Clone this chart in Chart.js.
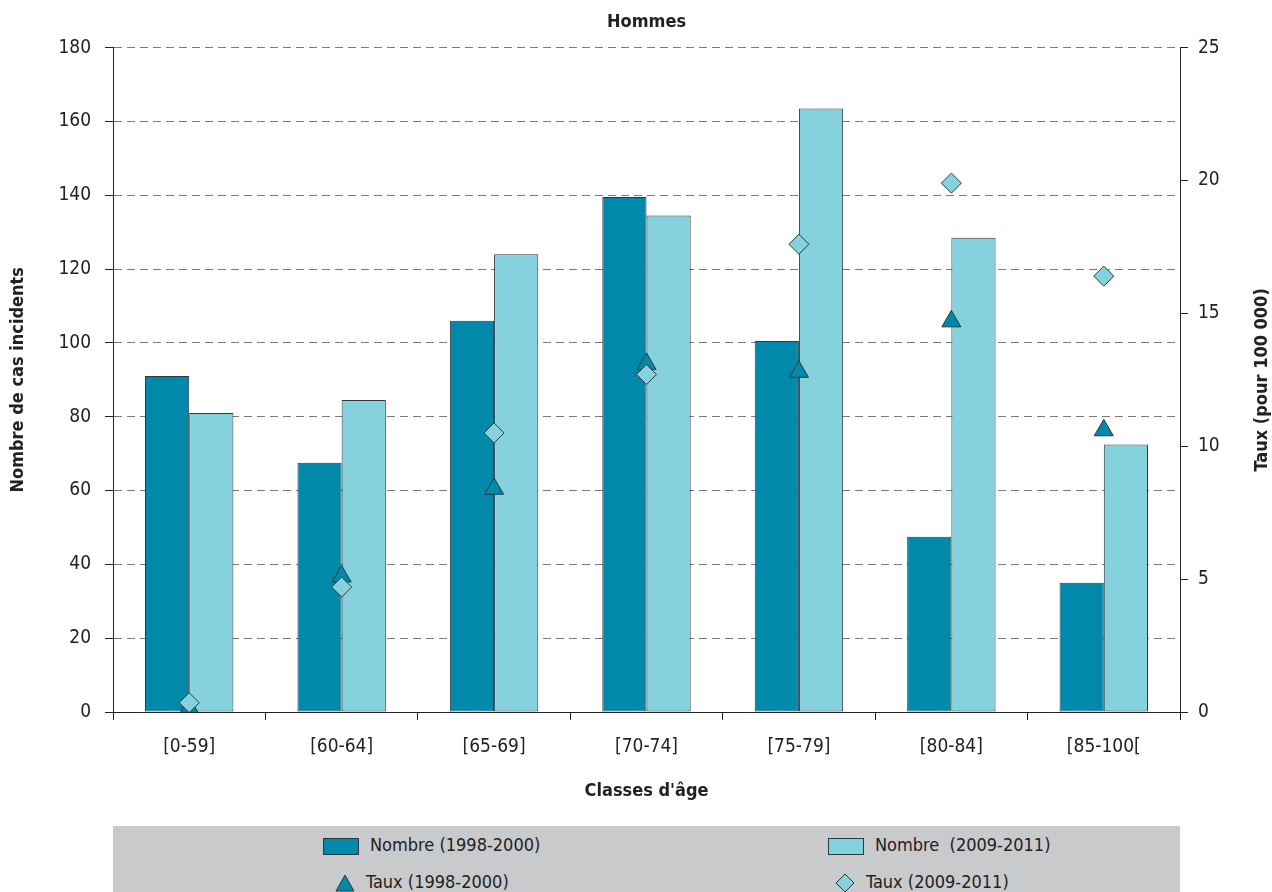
<!DOCTYPE html>
<html lang="fr">
<head>
    <meta charset="UTF-8">
    <title>Hommes</title>
    <script src="https://cdn.jsdelivr.net/npm/chart.js"></script>
    <style>
        body { margin: 0; background: #fff; font-family: "Liberation Sans Narrow", "DejaVu Sans Condensed", sans-serif; }
        #wrap { position: relative; width: 1272px; height: 892px; }
        #legend {
            position: absolute; left: 113px; top: 826px; width: 1067px; height: 66px;
            background: #c9cacc; color: #222; font-size: 18px;
        }
        .item { position: absolute; height: 22px; line-height: 22px; white-space: pre; }
        .sw { display: inline-block; vertical-align: middle; margin-right: 11px; }
    </style>
</head>
<body>
<div id="wrap">
    <canvas id="chart" width="1272" height="826"></canvas>
    <div id="legend"></div>
</div>
<script>
    var categories = ['[0-59]', '[60-64]', '[65-69]', '[70-74]', '[75-79]', '[80-84]', '[85-100['];
    var nombre1998 = [91, 67.5, 106, 139.5, 100.5, 47.5, 35];
    var nombre2009 = [81, 84.5, 124, 134.5, 163.5, 128.5, 72.5];
    var taux1998 = [0.15, 5.1, 8.4, 13.1, 12.8, 14.7, 10.6];
    var taux2009 = [0.35, 4.7, 10.5, 12.7, 17.6, 19.9, 16.4];
    var seriesNames = ['Nombre (1998-2000)', 'Nombre  (2009-2011)', 'Taux (1998-2000)', 'Taux (2009-2011)'];
    var rightTitle = 'Taux (pour 100 000)';

    var dark = '#0089ab';
    var light = '#85d2de';
    var edge = '#2b3a3f';
    var fontFam = '"Liberation Sans Narrow", "DejaVu Sans Condensed", sans-serif';

    // right axis title reads bottom to top, like the left one
    var rightTitlePlugin = {
        id: 'rightTitle',
        afterDraw: function(chart) {
            var c = chart.ctx, a = chart.chartArea;
            c.save();
            c.translate(1262, (a.top + a.bottom) / 2);
            c.rotate(-Math.PI / 2);
            c.font = 'bold 18px ' + fontFam;
            c.fillStyle = '#222';
            c.textAlign = 'center';
            c.textBaseline = 'middle';
            c.fillText(rightTitle, 0, 0);
            c.restore();
        }
    };

    var ctx = document.getElementById('chart').getContext('2d');
    var chart = new Chart(ctx, {
        data: {
            labels: categories,
            datasets: [
                { type: 'line', label: seriesNames[3], data: taux2009, yAxisID: 'y1', showLine: false,
                  pointStyle: 'rectRot', pointRadius: 10, pointBackgroundColor: light,
                  pointBorderColor: edge, pointBorderWidth: 1, order: 1 },
                { type: 'line', label: seriesNames[2], data: taux1998, yAxisID: 'y1', showLine: false,
                  pointStyle: 'triangle', pointRadius: 11, pointBackgroundColor: dark,
                  pointBorderColor: edge, pointBorderWidth: 1, order: 2 },
                { type: 'bar', label: seriesNames[0], data: nombre1998, yAxisID: 'y',
                  backgroundColor: dark, borderColor: edge, borderWidth: 1, borderSkipped: false, order: 3 },
                { type: 'bar', label: seriesNames[1], data: nombre2009, yAxisID: 'y',
                  backgroundColor: light, borderColor: edge, borderWidth: 1, borderSkipped: false, order: 4 }
            ]
        },
        options: {
            responsive: false,
            animation: false,
            datasets: { bar: { barPercentage: 1, categoryPercentage: 0.58 } },
            layout: { padding: 0 },
            plugins: {
                legend: { display: false },
                tooltip: { enabled: false },
                title: {
                    display: true, text: 'Hommes', fullSize: false, color: '#222',
                    font: { family: fontFam, size: 18, weight: 'bold' },
                    padding: { top: 12, bottom: 14 }
                }
            },
            scales: {
                x: {
                    grid: { drawOnChartArea: false, drawTicks: true, tickLength: 8, tickColor: '#222', offset: true },
                    border: { color: '#222', width: 1 },
                    ticks: { color: '#222', padding: 16, font: { family: fontFam, size: 19 } },
                    title: { display: true, text: "Classes d'âge", color: '#222', padding: { top: 4, bottom: 24 },
                             font: { family: fontFam, size: 18, weight: 'bold' } },
                    afterFit: function(s) { s.height = 114; }
                },
                y: {
                    position: 'left', min: 0, max: 180,
                    ticks: { stepSize: 20, color: '#222', padding: 14, font: { family: fontFam, size: 19 } },
                    grid: { color: '#7a7a7a', tickColor: '#222', tickLength: 8, lineWidth: 1 },
                    border: { color: '#222', width: 1, dash: [8, 5] },
                    title: { display: true, text: 'Nombre de cas incidents', color: '#222', padding: { top: 8, bottom: 0 },
                             font: { family: fontFam, size: 18, weight: 'bold' } },
                    afterFit: function(s) { s.width = 113; }
                },
                y1: {
                    position: 'right', min: 0, max: 25,
                    ticks: { stepSize: 5, color: '#222', padding: 10, font: { family: fontFam, size: 19 } },
                    grid: { drawOnChartArea: false, tickColor: '#222', tickLength: 8 },
                    border: { color: '#222', width: 1 },
                    title: { display: false },
                    afterFit: function(s) { s.width = 92; }
                }
            }
        },
        plugins: [rightTitlePlugin]
    });

    // legend in two columns under the chart
    var legendItems = [
        { name: seriesNames[0], left: 210, top: 8, sw: '<span class="sw" style="width:34px;height:15px;background:' + dark + ';border:1px solid ' + edge + '"></span>' },
        { name: seriesNames[1], left: 715, top: 8, sw: '<span class="sw" style="width:34px;height:15px;background:' + light + ';border:1px solid ' + edge + '"></span>' },
        { name: seriesNames[2], left: 222, top: 45, sw: '<svg class="sw" width="20" height="18"><polygon points="10,1 19,17 1,17" fill="' + dark + '" stroke="' + edge + '"/></svg>' },
        { name: seriesNames[3], left: 722, top: 45, sw: '<svg class="sw" width="20" height="20"><polygon points="10,1 19,10 10,19 1,10" fill="' + light + '" stroke="' + edge + '"/></svg>' }
    ];
    var legendEl = document.getElementById('legend');
    legendItems.forEach(function(it) {
        var d = document.createElement('div');
        d.className = 'item';
        d.style.left = it.left + 'px';
        d.style.top = it.top + 'px';
        d.innerHTML = it.sw + '<span></span>';
        d.lastChild.textContent = it.name;
        legendEl.appendChild(d);
    });
</script>
</body>
</html>
